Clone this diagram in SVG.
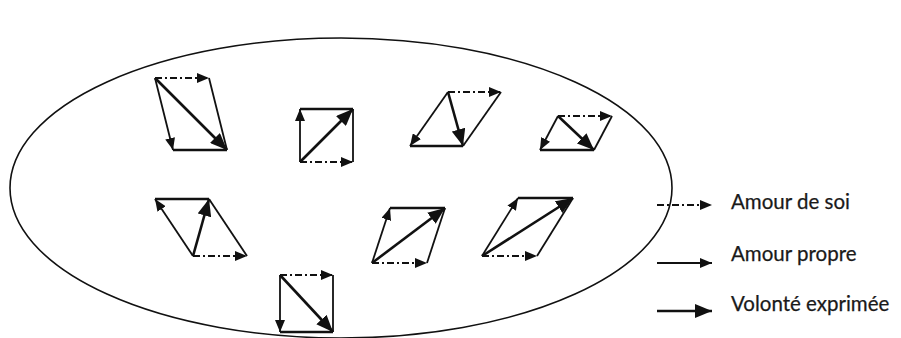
<svg xmlns="http://www.w3.org/2000/svg" width="901" height="338" viewBox="0 0 901 338">
<style>
.v{stroke:#111;fill:none;stroke-linecap:butt}
.d{stroke-width:1.8;stroke-dasharray:7 3 2 3;marker-end:url(#sm)}
.t{stroke-width:1.8;marker-end:url(#sm)}
.b{stroke-width:2.6;marker-end:url(#lg)}
.s{stroke-width:1.8}
.e{stroke-width:2.4}
text{font-family:Lato,"Liberation Sans",sans-serif;font-size:20.5px;fill:#1a1a1a;stroke:#1a1a1a;stroke-width:0.25}
</style>
<defs>
<marker id="sm" markerUnits="userSpaceOnUse" markerWidth="12" markerHeight="10" refX="12" refY="5" orient="auto"><path d="M0,0L12,5L0,10z" fill="#111"/></marker>
<marker id="lg" markerUnits="userSpaceOnUse" markerWidth="17" markerHeight="14" refX="17" refY="7" orient="auto"><path d="M0,0L17,7L0,14z" fill="#111"/></marker>
</defs>
<rect width="901" height="338" fill="#fff"/>
<ellipse id="ensemble" cx="341" cy="188" rx="331" ry="150" fill="none" stroke="#111" stroke-width="1.6"/>
<g id="p1"><line class="v s" x1="209" y1="78" x2="227" y2="150"/><line class="v e" x1="173" y1="150" x2="227" y2="150"/><line class="v d" x1="155" y1="78" x2="209" y2="78"/><line class="v t" x1="155" y1="78" x2="173" y2="150"/><line class="v b" x1="155" y1="78" x2="227" y2="150"/></g>
<g id="p2"><line class="v s" x1="353" y1="162" x2="353" y2="109"/><line class="v e" x1="300" y1="109" x2="353" y2="109"/><line class="v d" x1="300" y1="162" x2="353" y2="162"/><line class="v t" x1="300" y1="162" x2="300" y2="109"/><line class="v b" x1="300" y1="162" x2="353" y2="109"/></g>
<g id="p3"><line class="v s" x1="501" y1="92" x2="463" y2="146"/><line class="v e" x1="410" y1="146" x2="463" y2="146"/><line class="v d" x1="448" y1="92" x2="501" y2="92"/><line class="v t" x1="448" y1="92" x2="410" y2="146"/><line class="v b" x1="448" y1="92" x2="463" y2="146"/></g>
<g id="p4"><line class="v s" x1="612" y1="116" x2="594" y2="150"/><line class="v e" x1="540" y1="150" x2="594" y2="150"/><line class="v d" x1="558" y1="116" x2="612" y2="116"/><line class="v t" x1="558" y1="116" x2="540" y2="150"/><line class="v b" x1="558" y1="116" x2="594" y2="150"/></g>
<g id="p5"><line class="v s" x1="209" y1="199" x2="247" y2="256"/><line class="v e" x1="155" y1="199" x2="209" y2="199"/><line class="v d" x1="193" y1="256" x2="247" y2="256"/><line class="v t" x1="193" y1="256" x2="155" y2="199"/><line class="v b" x1="193" y1="256" x2="209" y2="199"/></g>
<g id="p6"><line class="v s" x1="445" y1="208" x2="427" y2="263"/><line class="v e" x1="390" y1="208" x2="445" y2="208"/><line class="v d" x1="372" y1="263" x2="427" y2="263"/><line class="v t" x1="372" y1="263" x2="390" y2="208"/><line class="v b" x1="372" y1="263" x2="445" y2="208"/></g>
<g id="p7"><line class="v s" x1="573" y1="198" x2="537" y2="256"/><line class="v e" x1="518" y1="198" x2="573" y2="198"/><line class="v d" x1="482" y1="256" x2="537" y2="256"/><line class="v t" x1="482" y1="256" x2="518" y2="198"/><line class="v b" x1="482" y1="256" x2="573" y2="198"/></g>
<g id="p8"><line class="v s" x1="333" y1="275" x2="333" y2="332"/><line class="v e" x1="280" y1="332" x2="333" y2="332"/><line class="v d" x1="280" y1="275" x2="333" y2="275"/><line class="v t" x1="280" y1="275" x2="280" y2="332"/><line class="v b" x1="280" y1="275" x2="333" y2="332"/></g>
<g id="legend-arrows"><line class="v d" x1="657" y1="205" x2="712" y2="205"/><line class="v t" x1="657" y1="263" x2="712" y2="263"/><line class="v b" x1="657" y1="311" x2="712" y2="311"/></g>
<g id="legend-labels"><text x="731" y="209">Amour de soi</text><text x="731" y="261">Amour propre</text><text x="731" y="311">Volonté exprimée</text></g>
</svg>
